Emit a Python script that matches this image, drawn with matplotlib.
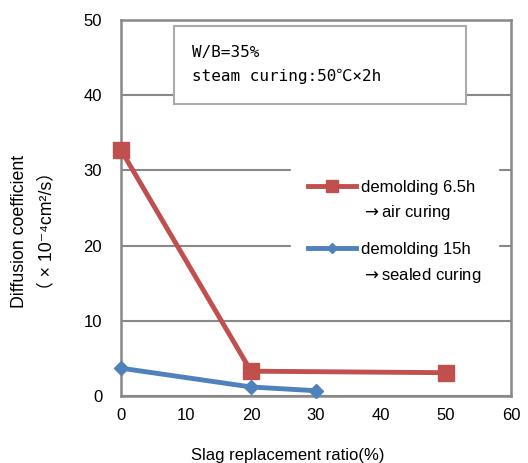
import matplotlib
matplotlib.use("Agg")
import matplotlib.pyplot as plt
from matplotlib.lines import Line2D
from matplotlib.patches import Rectangle

plt.rcParams['font.family'] = ['Liberation Sans', 'Noto Sans CJK JP', 'DejaVu Sans']
plt.rcParams['mathtext.fontset'] = 'dejavusans'

x_red = [0, 20, 50]
y_red = [32.7, 3.3, 3.1]
x_blue = [0, 20, 30]
y_blue = [3.7, 1.2, 0.7]
label_red = "demolding 6.5h\n$\\rightarrow$air curing"
label_blue = "demolding 15h\n$\\rightarrow$sealed curing"
xticks = [0, 10, 20, 30, 40, 50, 60]
yticks = [0, 10, 20, 30, 40, 50]

red = '#C0504D'
blue = '#4F81BD'
W, H = 528, 463

fig = plt.figure(figsize=(W/100, H/100), dpi=100)
ax = fig.add_axes([121/W, 1-396/H, (511-121)/W, (396-20)/H])
ax.set_xlim(0, 60)
ax.set_ylim(0, 50)
ax.set_xticks(xticks)
ax.set_yticks(yticks)
ax.tick_params(length=0, labelsize=12)
ax.tick_params(axis='y', pad=13.5)
ax.tick_params(axis='x', pad=8.5)
for s in ax.spines.values():
    s.set_color('#888888')
    s.set_linewidth(1.8)
ax.grid(axis='y', color='#888888', linewidth=1.5)
ax.set_axisbelow(True)

ax.plot(x_red, y_red, color=red, linewidth=3.5, marker='s', markersize=12,
        clip_on=False, zorder=5)
ax.plot(x_blue, y_blue, color=blue, linewidth=3.5, marker='D', markersize=7.5,
        clip_on=False, zorder=5)

handles = [Line2D([], [], color=red, linewidth=3.5, marker='s', markersize=8),
           Line2D([], [], color=blue, linewidth=3.5, marker='D', markersize=5)]
leg = ax.legend(handles, [label_red, label_blue], loc='upper left',
                bbox_to_anchor=((291-121)/390, (396-163)/376), frameon=True,
                fontsize=12, handlelength=2.9, handletextpad=0.3,
                labelspacing=1.2, borderpad=1.0, borderaxespad=0)
for t in leg.get_texts():
    t.set_linespacing(1.62)
for col in leg._legend_handle_box.get_children():
    for row in col.get_children():
        row.align = 'top'
leg.get_frame().set_edgecolor('white')
leg.get_frame().set_facecolor('white')
leg.get_frame().set_alpha(1)
leg.get_frame().set_boxstyle('square', pad=0)

ax.add_patch(Rectangle(((174-121)/390, (396-104)/376), (466-174)/390, (104-26)/376,
                       transform=ax.transAxes, facecolor='white', edgecolor='#AAAAAA',
                       linewidth=1.5, zorder=3))
ax.text((192-121)/390, (396-64.5)/376, "W/B=35%\nsteam curing:50\u2103\u00d72h",
        transform=ax.transAxes, fontsize=11.5, va='center', ha='left',
        family=['DejaVu Sans Mono', 'Noto Sans CJK JP'], linespacing=1.65, zorder=4)

fig.text(33/W, 1-231/H, "Diffusion coefficient\n\uff08 \u00d7 10\u207b\u2074cm\u00b2/s\uff09",
         rotation=90, ha='center', va='center', fontsize=12.8, linespacing=1.8,
         multialignment='center')
fig.text(288/W, 1-460/H, "Slag replacement ratio(%)", ha='center', va='baseline',
         fontsize=12)

fig.savefig("out.png", dpi=100)
